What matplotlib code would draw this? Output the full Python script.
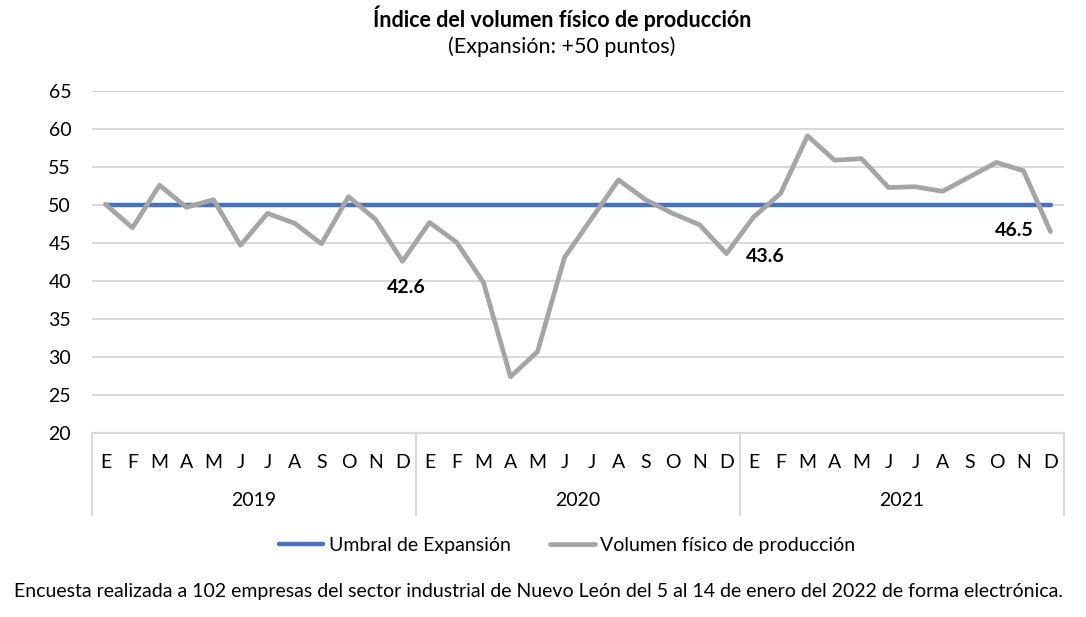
import matplotlib.pyplot as plt
import matplotlib.transforms as mtransforms

plt.rcParams['font.family'] = ['Lato', 'DejaVu Sans']

months = ["E", "F", "M", "A", "M", "J", "J", "A", "S", "O", "N", "D"]
years = ["2019", "2020", "2021"]
volumen = [50.1, 47.0, 52.6, 49.7, 50.7, 44.7, 48.9, 47.6, 44.9, 51.1, 48.1, 42.6,
           47.7, 45.1, 39.8, 27.4, 30.7, 43.1, 48.2, 53.3, 50.7, 48.9, 47.4, 43.6,
           48.4, 51.5, 59.1, 55.9, 56.1, 52.3, 52.4, 51.8, 53.7, 55.6, 54.5, 46.5]
umbral = [50] * 36
labels = {11: "42.6", 23: "43.6", 35: "46.5"}

x = list(range(len(volumen)))
fs = 14

fig = plt.figure(figsize=(10.86, 6.17), dpi=100)
ax = fig.add_axes([92 / 1086, 1 - 433 / 617, 972 / 1086, 342 / 617])

ax.plot(x, umbral, color="#4472C4", lw=3.2, solid_capstyle="round", label="Umbral de Expansión", zorder=3)
ax.plot(x, volumen, color="#A5A5A5", lw=3.4, solid_capstyle="round", label="Volumen físico de producción", zorder=4)

ax.set_xlim(-0.5, 35.5)
ax.set_ylim(20, 65)
ax.set_yticks(range(20, 70, 5))
ax.tick_params(axis="y", length=0, pad=15, labelsize=fs, labelcolor="#000000")
ax.yaxis.grid(True, color="#d9d9d9", lw=1.5)
ax.set_axisbelow(True)
for s in ["top", "right", "left"]:
    ax.spines[s].set_visible(False)
ax.spines["bottom"].set_color("#d9d9d9")
ax.spines["bottom"].set_linewidth(1.5)

ax.set_xticks(x)
ax.set_xticklabels(months * 3)
ax.tick_params(axis="x", length=0, pad=15, labelsize=fs)

# year groups
trans = mtransforms.blended_transform_factory(ax.transData, ax.transAxes)
for i, yr in enumerate(years):
    ax.text(i * 12 + 5.5, -0.197, yr, transform=trans, ha="center", va="center", fontsize=fs)
for b in [-0.5, 11.5, 23.5, 35.5]:
    ax.plot([b, b], [0, -0.24], transform=trans, color="#d9d9d9", lw=1.5, clip_on=False)

# data labels
offsets = {11: (3, -19), 23: (28, -2), 35: (-26, 1)}
for i, t in labels.items():
    ax.annotate(t, (i, volumen[i]), xytext=offsets[i], textcoords="offset points",
                ha="center", va="center", fontsize=fs, fontweight="bold")

fig.text(562 / 1086, 1 - 18 / 617, "Índice del volumen físico de producción", ha="center", va="center",
         fontsize=15.5, fontweight="bold")
fig.text(562 / 1086, 1 - 47 / 617, "(Expansión: +50 puntos)", ha="center", va="center", fontsize=15.5)

fig.legend(loc="center", bbox_to_anchor=(567 / 1086, 1 - 545 / 617), ncol=2, frameon=False,
           fontsize=fs, handlelength=2.3, columnspacing=2.0, handletextpad=0.3)

fig.text(538 / 1086, 1 - 592 / 617,
         "Encuesta realizada a 102 empresas del sector industrial de Nuevo León del 5 al 14 de enero del 2022 de forma electrónica.",
         ha="center", va="center", fontsize=fs)

fig.savefig("out.png", dpi=100)
